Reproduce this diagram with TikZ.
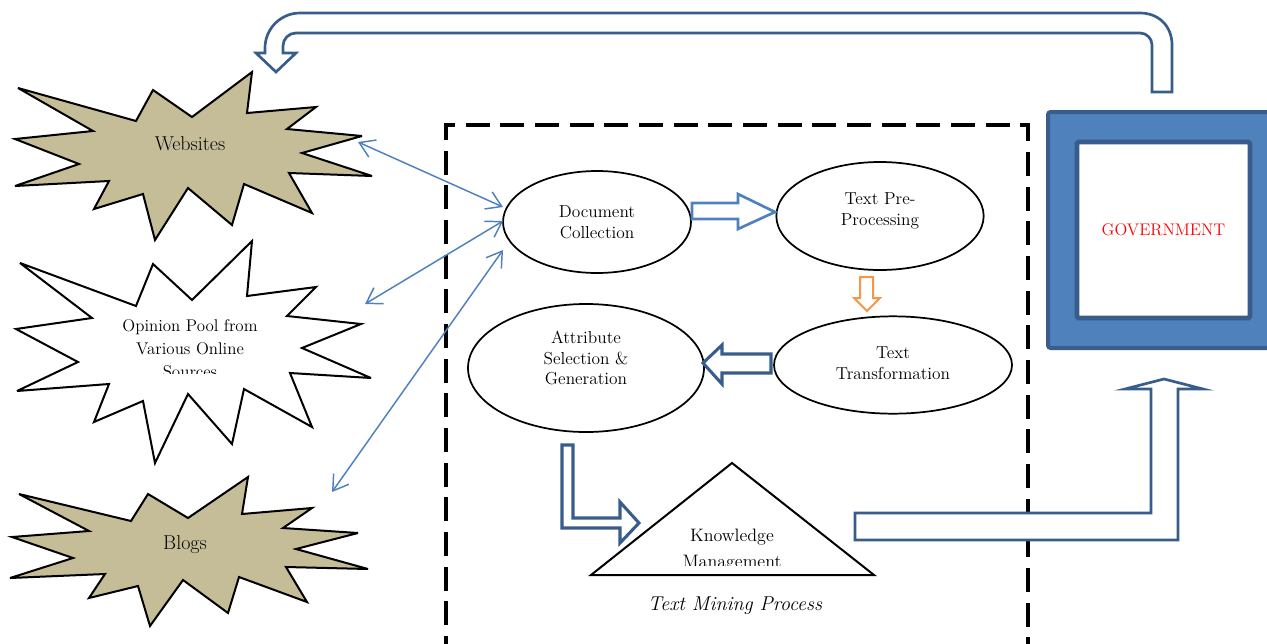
\documentclass[tikz,border=0pt]{standalone}
\usetikzlibrary{shapes.geometric,arrows.meta}
\definecolor{burstfill}{HTML}{C4BD97}
\definecolor{blueA}{HTML}{4F81BD}
\definecolor{blueB}{HTML}{385D8A}
\definecolor{orangeA}{HTML}{F79646}
\begin{document}
\begin{tikzpicture}[x=0.75pt,y=-0.75pt,
  burst/.style={draw=black,line width=1.5pt,line join=miter,miter limit=5},
  ell/.style={draw=black,ellipse,line width=1.3pt,inner sep=0pt},
  txt/.style={align=center,font=\fontsize{13}{15.5}\selectfont,inner sep=0pt},
  bigtxt/.style={align=center,font=\fontsize{15}{17}\selectfont,inner sep=0pt},
  link/.style={draw=blueA,line width=1.1pt,{Straight Barb[length=11pt,width=14pt]}-{Straight Barb[length=11pt,width=14pt]}},
  blockA/.style={draw=blueA,fill=white,line width=2pt,line join=miter},
  blockB/.style={draw=blueB,fill=white,line width=2pt,line join=miter},
  blockO/.style={draw=orangeA,fill=white,line width=1.5pt,line join=miter}]
\clip (0,0) rectangle (1267,643);
\fill[white] (0,0) rectangle (1267,643);

% ---- starbursts
\draw[burst,fill=burstfill] (18,88) -- (136,121) -- (153,90) -- (192,117) -- (252,72) -- (247,113) -- (316,107) -- (287,129) -- (362,136) -- (302,153) -- (372,176) -- (289,173) -- (312,213) -- (244,184) -- (232,225) -- (188,188) -- (155,240) -- (143,194) -- (94,209) -- (109,181) -- (15,186) -- (79,164) -- (15,139) -- (93,131) -- cycle;
\node[bigtxt] (web) at (190,144) {Websites};

\draw[burst,fill=white] (20,263) -- (136,306) -- (153,264) -- (192,300) -- (252,241) -- (247,296) -- (316,287) -- (287,316) -- (361,324) -- (302,348) -- (371,378) -- (290,373) -- (312,427) -- (244,389) -- (232,444) -- (188,394) -- (155,463) -- (143,401) -- (94,422) -- (109,384) -- (17,391) -- (78,362) -- (16,329) -- (92,318) -- cycle;
\begin{scope}
\clip (90,300) rectangle (300,373);
\node[align=center,font=\fontsize{12.7}{17.2}\selectfont,inner sep=0pt] (op) at (190,349) {Opinion Pool from\\Various Online\\Sources};
\end{scope}

\draw[burst,fill=burstfill] (19,494) -- (131,521) -- (148,494) -- (188,518) -- (248,477) -- (242,514) -- (312,508) -- (283,528) -- (358,533) -- (296,549) -- (368,569) -- (286,567) -- (307,602) -- (239,577) -- (228,613) -- (183,580) -- (150,626) -- (138,586) -- (89,598) -- (105,574) -- (10,578) -- (73,558) -- (12,537) -- (89,531) -- cycle;
\node[bigtxt] (blog) at (185,545) {Blogs};

% ---- dashed frame
\draw[line width=2.3pt,dash pattern=on 18pt off 8pt] (446,660) -- (446,125) -- (1028,125) -- (1028,660);

% ---- ellipses
\node[ell,minimum width=141pt,minimum height=76.5pt] (dc) at (597,222) {};
\node[txt] (dct) at (597,222) {Document\\Collection};
\node[ell,minimum width=155.5pt,minimum height=81pt] (pp) at (880,216) {};
\node[txt] (ppt) at (880,211) {Text Pre-\\Processing};
\node[ell,minimum width=178.5pt,minimum height=73pt] (tt) at (893,365) {};
\node[txt] (ttt) at (893,363) {Text\\Transformation};
\node[ell,minimum width=177pt,minimum height=96pt] (as) at (586,368) {};
\node[txt] (ast) at (586,358) {Attribute\\Selection \&\\Generation};

% ---- knowledge triangle
\draw[line width=1.5pt,line join=miter] (591,575) -- (732,463) -- (874,575) -- cycle;
\begin{scope}
\clip (600,520) rectangle (860,565);
\node[align=center,font=\fontsize{13.5}{19}\selectfont,inner sep=0pt] (km) at (732,550) {Knowledge\\Management};
\end{scope}
\node[font=\fontsize{15}{17}\selectfont\itshape,inner sep=0pt] (tmp) at (735,606) {Text Mining Process};

% ---- government
\draw[fill=blueA,draw=blueB,line width=3pt,rounded corners=2pt] (1048,112) rectangle (1300,348);
\node[draw=blueB,fill=white,line width=3.5pt,rounded corners=1pt,minimum width=129.75pt,minimum height=132pt,inner sep=0pt,text=red,font=\fontsize{12.6}{14}\selectfont] (gov) at (1163.5,230) {GOVERNMENT};

% ---- thin double arrows
\coordinate (w1) at (358,142);
\coordinate (d1) at (503,207);
\coordinate (o1) at (365,304);
\coordinate (d2) at (503,221);
\coordinate (b1) at (332,492);
\coordinate (d3) at (503,250);
\draw[link] (w1) -- (d1);
\draw[link] (o1) -- (d2);
\draw[link] (b1) -- (d3);

% ---- block arrows
\draw[blockA] (692,203) -- (738,203) -- (738,194) -- (775,212) -- (738,229) -- (738,219) -- (692,219) -- cycle;
\draw[blockO] (860,277) -- (873,277) -- (873,298) -- (880,298) -- (867,311) -- (854,298) -- (860,298) -- cycle;
\draw[blockB,line width=2.3pt] (771,354) -- (722,354) -- (722,345) -- (703,363) -- (722,384) -- (722,373) -- (771,373) -- cycle;
\draw[blockB,line width=2.3pt] (562,445) -- (573,445) -- (573,518) -- (620,518) -- (620,502) -- (639,523) -- (620,543) -- (620,528) -- (562,528) -- cycle;
\draw[blockB] (855,513) -- (1151,513) -- (1151,389) -- (1125,389) -- (1164,379) -- (1203,389) -- (1178,389) -- (1178,540) -- (855,540) -- cycle;
\draw[blockB] (1172,92) -- (1172,45) .. controls (1172,26.2) and (1158.8,13) .. (1140,13)
  -- (300,13) .. controls (280.7,13) and (265,28.7) .. (265,48) -- (265,53) -- (256,53) -- (276,72) -- (296,53) -- (283,53) -- (283,46)
  .. controls (283,38.8) and (288.8,33) .. (296,33) -- (1140,33) .. controls (1146.6,33) and (1152,38.4) .. (1152,45) -- (1152,92) -- cycle;
\end{tikzpicture}
\end{document}
